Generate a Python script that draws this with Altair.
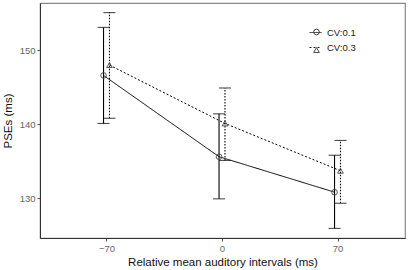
import altair as alt
import pandas as pd

groups = ["CV:0.1", "CV:0.1", "CV:0.1", "CV:0.3", "CV:0.3", "CV:0.3"]
intervals = [-70, 0, 70, -70, 0, 70]
pse = [146.6, 135.6, 130.8, 148.0, 140.1, 133.7]
upper = [153.1, 141.4, 135.8, 155.1, 144.9, 137.8]
lower = [140.1, 129.9, 125.9, 140.8, 135.1, 129.3]
dodge = {"CV:0.1": -1.8, "CV:0.3": 1.8}
levels = ["CV:0.1", "CV:0.3"]

df = pd.DataFrame({"group": groups, "interval": intervals, "pse": pse,
                   "upper": upper, "lower": lower})
df["xpos"] = df["interval"] + df["group"].map(dodge)
df["gshape"] = df["group"] + " "

xs = alt.Scale(domain=[-110.3, 110.9], nice=False, zero=False)
ys = alt.Scale(domain=[124.6, 156.4], nice=False, zero=False)

X = alt.X("xpos:Q", scale=xs, title="Relative mean auditory intervals (ms)",
          axis=alt.Axis(values=[-70, 0, 70], labelExpr="datum.value < 0 ? '\u2212' + abs(datum.value) : datum.value"))
Y = alt.Y("pse:Q", scale=ys, title="PSEs (ms)", axis=alt.Axis(values=[130, 140, 150]))

base = alt.Chart(df)

lines = base.mark_line(color="black", strokeWidth=1).encode(
    x=X, y=Y,
    strokeDash=alt.StrokeDash("group:N", scale=alt.Scale(domain=levels, range=[[1, 0], [2, 2]]),
                              legend=alt.Legend(title=None, orient="none", legendX=269, legendY=23,
                                                symbolType="stroke", symbolSize=144, symbolStrokeWidth=1,
                                                symbolStrokeColor="#222222",
                                                labelFontSize=9.5, labelColor="#222222", labelFont="Liberation Sans",
                                                labelOffset=5, rowPadding=4)))

err_layers = []
for lvl, dash in zip(levels, [[1, 0], [1.5, 1.5]]):
    sub = base.transform_filter(alt.datum.group == lvl)
    err_layers.append(sub.mark_rule(color="black", strokeWidth=1.1, strokeDash=dash).encode(
        x=X, y=alt.Y("lower:Q", scale=ys), y2="upper:Q"))
    err_layers.append(sub.mark_tick(color="black", orient="horizontal", size=12, thickness=1.1, strokeDash=dash).encode(
        x=X, y=alt.Y("upper:Q", scale=ys)))
    err_layers.append(sub.mark_tick(color="black", orient="horizontal", size=12, thickness=1.1, strokeDash=dash).encode(
        x=X, y=alt.Y("lower:Q", scale=ys)))

points = base.mark_point(filled=False, color="#444444", size=32, strokeWidth=0.9, opacity=1).encode(
    x=X, y=Y,
    shape=alt.Shape("gshape:N", scale=alt.Scale(domain=[l + " " for l in levels], range=["circle", "triangle-up"]),
                    legend=alt.Legend(title=None, orient="none", legendX=272, legendY=24.5,
                                      symbolSize=32, symbolStrokeColor="#333333", symbolFillColor="white",
                                      symbolStrokeWidth=0.9, labelExpr="''",
                                      labelFontSize=9, rowPadding=8)))

chart = alt.layer(lines, *err_layers, points).properties(
    width=365, height=235,
    padding={"left": 40, "top": 3, "right": 3, "bottom": 32},
    autosize=alt.AutoSizeParams(type="none"),
).configure_view(stroke="#888888", strokeWidth=1.2).configure_axis(
    grid=False, domainColor="#333333", domainWidth=1, tickColor="#555555", tickSize=3,
    labelColor="#666666", labelFontSize=9.5, labelFont="Liberation Sans",
    titleFont="Liberation Sans", titleFontSize=11.5, titleFontWeight="normal", titleColor="#111111",
    labelPadding=2,
).configure_axisX(titlePadding=4).configure_axisY(titlePadding=6)

chart.save("out.html", embed_options={"renderer": "svg", "actions": False})
